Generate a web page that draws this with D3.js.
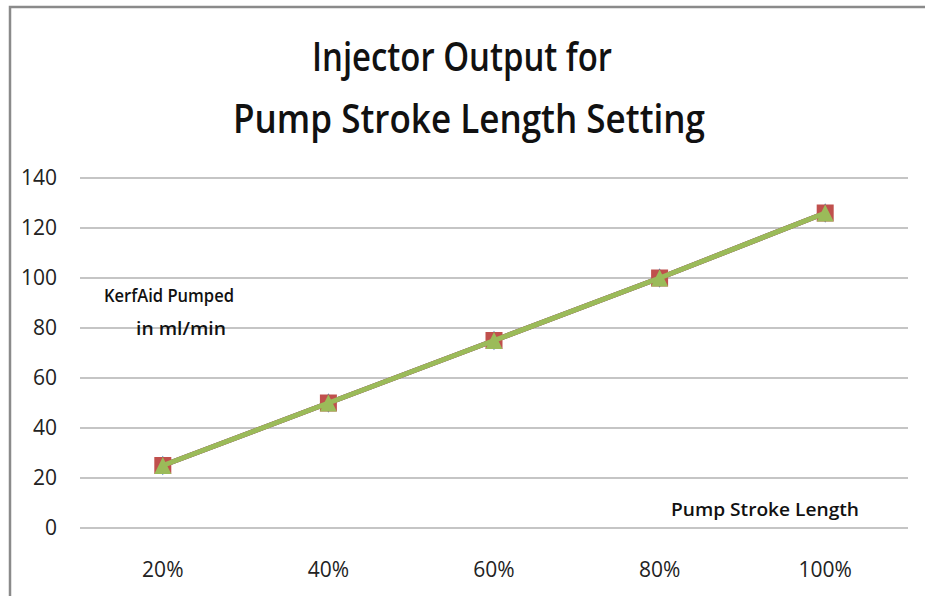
<!DOCTYPE html>
<html>
<head>
<meta charset="utf-8">
<script src="https://cdn.jsdelivr.net/npm/d3@7"></script>
<style>
  html, body { margin: 0; padding: 0; background: #fff; overflow: hidden; }
  svg { display: block; }
  svg text { font-family: "Open Sans", "Liberation Sans", sans-serif; }
</style>
</head>
<body>
<div id="chart"></div>
<script>
// 系列データ
const categories = ['20%', '40%', '60%', '80%', '100%'];
const seriesBlue = [25, 50, 75, 100, 126];
const seriesRed = [25, 50, 75, 100, 126];
const seriesGreen = [25, 50, 75, 100, 126];
const yTicks = [0, 20, 40, 60, 80, 100, 120, 140];

const width = 925, height = 596;
const margin = { left: 80, right: 17, top: 178, bottom: 68 };

const svg = d3.select('#chart').append('svg')
    .attr('width', width)
    .attr('height', height);

// 外枠（上と左だけ見える）
svg.append('path')
    .attr('d', `M10,${height}V7H${width}`)
    .attr('fill', 'none')
    .attr('stroke', '#8a8a8a')
    .attr('stroke-width', 2.5);

const x = d3.scaleBand()
    .domain(categories)
    .range([margin.left, width - margin.right]);

const y = d3.scaleLinear()
    .domain([0, 140])
    .range([height - margin.bottom, margin.top]);

// グリッド線
svg.append('g')
    .selectAll('line')
    .data(yTicks)
    .enter().append('line')
    .attr('x1', margin.left)
    .attr('x2', width - margin.right)
    .attr('y1', d => y(d))
    .attr('y2', d => y(d))
    .attr('stroke', '#8c8c8c')
    .attr('stroke-width', 1.2);

// Y軸ラベル
const yAxis = svg.append('g')
    .attr('transform', `translate(${margin.left},0)`)
    .call(d3.axisLeft(y).tickValues(yTicks).tickSize(0).tickPadding(23));
yAxis.select('.domain').remove();
yAxis.attr('font-size', null).attr('font-family', null);
yAxis.selectAll('text')
    .style('font-size', '21px')
    .attr('fill', '#222');

// X軸ラベル
const xAxis = svg.append('g')
    .attr('transform', `translate(0,${height - margin.bottom})`)
    .call(d3.axisBottom(x).tickSize(0).tickPadding(34));
xAxis.select('.domain').remove();
xAxis.attr('font-size', null).attr('font-family', null);
xAxis.selectAll('text')
    .style('font-size', '21px')
    .attr('fill', '#222');

const cx = (d, i) => x(categories[i]) + x.bandwidth() / 2;
const line = d3.line()
    .x((d, i) => cx(d, i))
    .y(d => y(d));

// 青系列（ひし形）
svg.append('path')
    .datum(seriesBlue)
    .attr('d', line)
    .attr('fill', 'none')
    .attr('stroke', '#4F81BD')
    .attr('stroke-width', 5);
svg.append('g').selectAll('path')
    .data(seriesBlue)
    .enter().append('path')
    .attr('d', d3.symbol().type(d3.symbolDiamond).size(110))
    .attr('transform', (d, i) => `translate(${cx(d, i)},${y(d)})`)
    .attr('fill', '#4F81BD');

// 赤系列（四角）
svg.append('path')
    .datum(seriesRed)
    .attr('d', line)
    .attr('fill', 'none')
    .attr('stroke', '#C0504D')
    .attr('stroke-width', 5);
svg.append('g').selectAll('rect')
    .data(seriesRed)
    .enter().append('rect')
    .attr('x', (d, i) => cx(d, i) - 8.5)
    .attr('y', d => y(d) - 8.5)
    .attr('width', 17)
    .attr('height', 17)
    .attr('fill', '#C0504D');

// 緑系列（三角）
svg.append('path')
    .datum(seriesGreen)
    .attr('d', line)
    .attr('fill', 'none')
    .attr('stroke', '#9BBB59')
    .attr('stroke-width', 5);
svg.append('g').selectAll('path')
    .data(seriesGreen)
    .enter().append('path')
    .attr('d', d => {
        const s = 17;
        return `M0,${-s / 2}L${s / 2},${s / 2}L${-s / 2},${s / 2}Z`;
    })
    .attr('transform', (d, i) => `translate(${cx(d, i)},${y(d)})`)
    .attr('fill', '#9BBB59');

// タイトル
const title = svg.append('text')
    .attr('text-anchor', 'middle')
    .attr('font-size', 40)
    .attr('font-weight', 600)
    .attr('fill', '#111');
title.append('tspan')
    .attr('x', 462).attr('y', 71)
    .attr('textLength', 300)
    .attr('lengthAdjust', 'spacingAndGlyphs')
    .text('Injector Output for');
title.append('tspan')
    .attr('x', 469).attr('y', 133)
    .attr('textLength', 472)
    .attr('lengthAdjust', 'spacingAndGlyphs')
    .text('Pump Stroke Length Setting');

// 軸タイトル（縦）
const yTitle = svg.append('text')
    .attr('text-anchor', 'middle')
    .attr('font-size', 18)
    .attr('font-weight', 600)
    .attr('fill', '#111');
yTitle.append('tspan').attr('x', 169).attr('y', 302)
    .attr('textLength', 130).attr('lengthAdjust', 'spacingAndGlyphs')
    .text('KerfAid Pumped');
yTitle.append('tspan').attr('x', 181).attr('y', 335)
    .attr('textLength', 90).attr('lengthAdjust', 'spacingAndGlyphs')
    .text('in ml/min');

// 軸タイトル（横）
svg.append('text')
    .attr('x', 765).attr('y', 516)
    .attr('text-anchor', 'middle')
    .attr('font-size', 18)
    .attr('font-weight', 600)
    .attr('fill', '#111')
    .attr('textLength', 188)
    .attr('lengthAdjust', 'spacingAndGlyphs')
    .text('Pump Stroke Length');
</script>
</body>
</html>
